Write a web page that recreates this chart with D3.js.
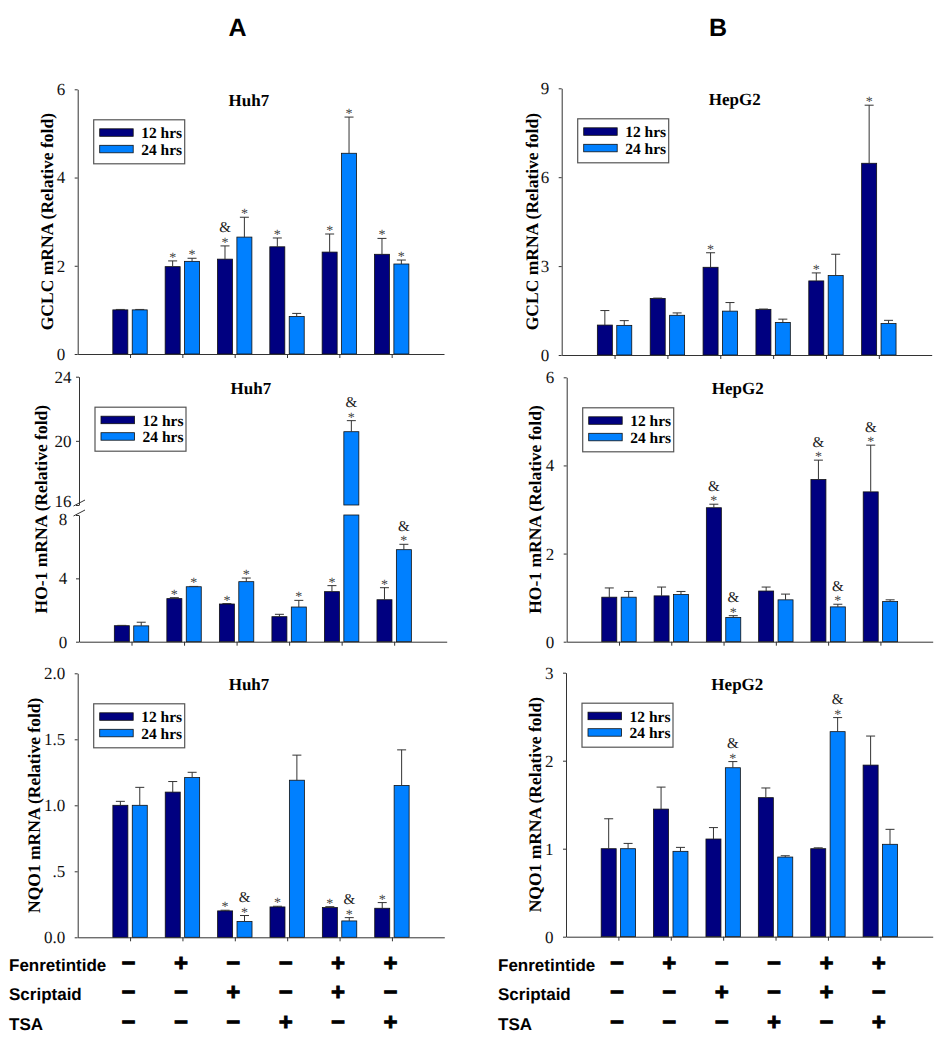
<!DOCTYPE html>
<html>
<head>
<meta charset="utf-8">
<script src="https://cdnjs.cloudflare.com/ajax/libs/d3/7.8.5/d3.min.js"></script>
<style>
  body { margin: 0; background: #fff; }
  svg { display: block; }
  text { text-rendering: geometricPrecision; }
</style>
</head>
<body>
<div id="chart"></div>
<script>
// ---- data ----
const groups = ["ctrl", "fen", "scr", "tsa", "fen+scr", "fen+tsa"];
const seriesNames = ["12 hrs", "24 hrs"];
const fenretintide = ["−", "+", "−", "−", "+", "+"];
const scriptaid = ["−", "−", "+", "−", "+", "−"];
const tsa = ["−", "−", "−", "+", "−", "+"];

// GCLC, Huh7
const gclcHuh7_12 = [1.00, 1.98, 2.15, 2.43, 2.31, 2.26];
const gclcHuh7_12err = [0.01, 0.13, 0.30, 0.20, 0.41, 0.36];
const gclcHuh7_12mark = ["", "*", "&*", "*", "*", "*"];
const gclcHuh7_24 = [1.00, 2.10, 2.65, 0.85, 4.55, 2.04];
const gclcHuh7_24err = [0.01, 0.07, 0.45, 0.07, 0.82, 0.09];
const gclcHuh7_24mark = ["", "*", "*", "", "*", "*"];

// GCLC, HepG2
const gclcHepG2_12 = [1.01, 1.91, 2.96, 1.54, 2.50, 6.47];
const gclcHepG2_12err = [0.49, 0.01, 0.49, 0.01, 0.27, 1.96];
const gclcHepG2_12mark = ["", "", "*", "", "*", "*"];
const gclcHepG2_24 = [1.00, 1.34, 1.48, 1.10, 2.68, 1.06];
const gclcHepG2_24err = [0.16, 0.08, 0.29, 0.11, 0.72, 0.11];
const gclcHepG2_24mark = ["", "", "", "", "", ""];

// HO-1, Huh7 (broken axis 8..16)
const ho1Huh7_12 = [1.01, 2.72, 2.38, 1.58, 3.16, 2.65];
const ho1Huh7_12err = [0.02, 0.06, 0.03, 0.15, 0.38, 0.76];
const ho1Huh7_12mark = ["", "*", "*", "", "*", "*"];
const ho1Huh7_24 = [1.00, 3.47, 3.79, 2.19, 20.57, 5.81];
const ho1Huh7_24err = [0.23, 0.02, 0.23, 0.42, 0.69, 0.34];
const ho1Huh7_24mark = ["", "*", "*", "*", "&*", "&*"];

// HO-1, HepG2
const ho1HepG2_12 = [1.01, 1.04, 3.04, 1.15, 3.68, 3.40];
const ho1HepG2_12err = [0.21, 0.20, 0.08, 0.09, 0.44, 1.06];
const ho1HepG2_12mark = ["", "", "&*", "", "&*", "&*"];
const ho1HepG2_24 = [1.01, 1.07, 0.55, 0.95, 0.79, 0.91];
const ho1HepG2_24err = [0.13, 0.07, 0.04, 0.13, 0.06, 0.04];
const ho1HepG2_24mark = ["", "", "&*", "", "&*", ""];

// NQO1, Huh7
const nqo1Huh7_12 = [1.00, 1.10, 0.20, 0.23, 0.225, 0.22];
const nqo1Huh7_12err = [0.03, 0.08, 0.005, 0.005, 0.007, 0.043];
const nqo1Huh7_12mark = ["", "", "*", "*", "*", "*"];
const nqo1Huh7_24 = [1.00, 1.21, 0.12, 1.19, 0.124, 1.15];
const nqo1Huh7_24err = [0.136, 0.04, 0.045, 0.19, 0.025, 0.27];
const nqo1Huh7_24mark = ["", "", "&*", "", "&*", ""];

// NQO1, HepG2
const nqo1HepG2_12 = [1.00, 1.45, 1.11, 1.58, 1.00, 1.95];
const nqo1HepG2_12err = [0.34, 0.25, 0.13, 0.11, 0.01, 0.33];
const nqo1HepG2_12mark = ["", "", "", "", "", ""];
const nqo1HepG2_24 = [1.00, 0.97, 1.92, 0.905, 2.33, 1.05];
const nqo1HepG2_24err = [0.06, 0.045, 0.07, 0.015, 0.16, 0.17];
const nqo1HepG2_24mark = ["", "", "&*", "", "&*", ""];

// ---- drawing ----
const W = 951, H = 1050;
const serif = "'Liberation Serif', 'Times New Roman', serif";
const sans = "'Liberation Sans', Arial, sans-serif";
const colors = ["#000080", "#0080ff"];
const axisColor = "#333";

const svg = d3.select("#chart").append("svg")
    .attr("width", W).attr("height", H);

function rows(v12, e12, m12, v24, e24, m24) {
    const out = [];
    groups.forEach((g, i) => {
        out.push({ g, s: seriesNames[0], v: v12[i], e: e12[i], m: m12[i] });
        out.push({ g, s: seriesNames[1], v: v24[i], e: e24[i], m: m24[i] });
    });
    return out;
}

const panels = [
    { cell: "Huh7", title: "GCLC mRNA (Relative fold)", left: 77.7, right: 444, top: 89.3, bottom: 354,
      max: 6, ticks: [0, 2, 4, 6], titleOff: 24.5,
      data: rows(gclcHuh7_12, gclcHuh7_12err, gclcHuh7_12mark, gclcHuh7_24, gclcHuh7_24err, gclcHuh7_24mark) },
    { cell: "HepG2", title: "GCLC mRNA (Relative fold)", left: 561.7, right: 931.7, top: 88.3, bottom: 355,
      max: 9, ticks: [0, 3, 6, 9], titleOff: 24,
      data: rows(gclcHepG2_12, gclcHepG2_12err, gclcHepG2_12mark, gclcHepG2_24, gclcHepG2_24err, gclcHepG2_24mark) },
    { cell: "Huh7", title: "HO-1 mRNA (Relative fold)", left: 79, right: 446.7, top: 376.7, bottom: 641.7,
      broken: { low: [0, 8], high: [16, 24], lowTop: 515, highBottom: 505 },
      lowTicks: [0, 4, 8], highTicks: [16, 20, 24], titleOff: 32.5,
      data: rows(ho1Huh7_12, ho1Huh7_12err, ho1Huh7_12mark, ho1Huh7_24, ho1Huh7_24err, ho1Huh7_24mark) },
    { cell: "HepG2", title: "HO-1 mRNA (Relative fold)", left: 566.7, right: 932.7, top: 377.3, bottom: 641.7,
      max: 6, ticks: [0, 2, 4, 6], titleOff: 26,
      data: rows(ho1HepG2_12, ho1HepG2_12err, ho1HepG2_12mark, ho1HepG2_24, ho1HepG2_24err, ho1HepG2_24mark) },
    { cell: "Huh7", title: "NQO1 mRNA (Relative fold)", left: 77.7, right: 444.3, top: 673.3, bottom: 937.3,
      max: 2, ticks: [0, 0.5, 1, 1.5, 2], tickFmt: d => d === 0.5 ? ".5" : d.toFixed(1), titleOff: 37.5,
      data: rows(nqo1Huh7_12, nqo1Huh7_12err, nqo1Huh7_12mark, nqo1Huh7_24, nqo1Huh7_24err, nqo1Huh7_24mark) },
    { cell: "HepG2", title: "NQO1 mRNA (Relative fold)", left: 566, right: 932.7, top: 672.7, bottom: 936.7,
      max: 3, ticks: [0, 1, 2, 3], titleOff: 25.5,
      data: rows(nqo1HepG2_12, nqo1HepG2_12err, nqo1HepG2_12mark, nqo1HepG2_24, nqo1HepG2_24err, nqo1HepG2_24mark) }
];

function styleAxis(sel) {
    sel.selectAll("path, line").attr("stroke", axisColor).attr("stroke-width", 1);
    sel.selectAll("text").attr("font-family", serif).attr("font-size", 17).attr("fill", "#111");
}

panels.forEach(p => {
    const g = svg.append("g");

    const x = d3.scalePoint().domain(groups).range([p.left, p.right]).padding(1);
    const xs = d3.scaleBand().domain(seriesNames).range([-17.2, 17.2]).paddingInner(0.227);
    const color = d3.scaleOrdinal().domain(seriesNames).range(colors);

    // y scale(s): the broken panel maps a value onto one of two segments
    let yTop, yBase, yLow, yHigh;
    if (p.broken) {
        yLow = d3.scaleLinear().domain(p.broken.low).range([p.bottom, p.broken.lowTop]);
        yHigh = d3.scaleLinear().domain(p.broken.high).range([p.broken.highBottom, p.top]);
        yTop = v => v > p.broken.low[1] ? yHigh(v) : yLow(v);
        yBase = yLow(0);
    } else {
        const y = d3.scaleLinear().domain([0, p.max]).range([p.bottom, p.top]);
        yTop = y;
        yBase = y(0);
        p.y = y;
    }

    // bars
    p.data.forEach(d => {
        const bx = x(d.g) + xs(d.s);
        const bw = xs.bandwidth();
        if (p.broken && d.v > p.broken.low[1]) {
            g.append("rect").attr("x", bx).attr("y", yLow(p.broken.low[1]))
                .attr("width", bw).attr("height", yBase - yLow(p.broken.low[1]))
                .attr("fill", color(d.s)).attr("stroke", "#111").attr("stroke-width", 0.8);
            g.append("rect").attr("x", bx).attr("y", yHigh(d.v))
                .attr("width", bw).attr("height", yHigh(p.broken.high[0]) - yHigh(d.v))
                .attr("fill", color(d.s)).attr("stroke", "#111").attr("stroke-width", 0.8);
        } else {
            g.append("rect").attr("x", bx).attr("y", yTop(d.v))
                .attr("width", bw).attr("height", yBase - yTop(d.v))
                .attr("fill", color(d.s)).attr("stroke", "#111").attr("stroke-width", 0.8);
        }
        // error bar (upper only)
        const cx = bx + bw / 2;
        const et = yTop(d.v + d.e);
        g.append("line").attr("x1", cx).attr("x2", cx).attr("y1", yTop(d.v)).attr("y2", et)
            .attr("stroke", "#333").attr("stroke-width", 1);
        g.append("line").attr("x1", cx - 4.5).attr("x2", cx + 4.5).attr("y1", et).attr("y2", et)
            .attr("stroke", "#333").attr("stroke-width", 1);
        // significance marks
        if (d.m.includes("*")) {
            g.append("text").attr("x", cx).attr("y", et + 1).attr("text-anchor", "middle")
                .attr("font-family", serif).attr("font-size", 14).attr("fill", "#444").text("*");
        }
        if (d.m.includes("&")) {
            g.append("text").attr("x", cx).attr("y", et - 13.5).attr("text-anchor", "middle")
                .attr("font-family", serif).attr("font-size", 15).attr("fill", "#222").text("&");
        }
    });

    // x axis
    const xa = g.append("g").attr("transform", `translate(0,${yBase})`)
        .call(d3.axisBottom(x).tickSize(4).tickSizeOuter(0).tickFormat(""));
    styleAxis(xa);

    // y axis
    if (p.broken) {
        const la = g.append("g").attr("transform", `translate(${p.left},0)`)
            .call(d3.axisLeft(yLow).tickValues(p.lowTicks).tickSize(3).tickSizeOuter(0).tickPadding(10));
        const ha = g.append("g").attr("transform", `translate(${p.left},0)`)
            .call(d3.axisLeft(yHigh).tickValues(p.highTicks).tickSize(3).tickSizeOuter(0).tickPadding(10));
        [la, ha].forEach(a => {
            styleAxis(a);
            a.selectAll("text").attr("text-anchor", "middle").attr("x", -16);
        });
        // labels at the break sit close together, as in the original
        ha.selectAll(".tick").filter(d => d === p.broken.high[0]).select("text").attr("dy", "0.1em");
        la.selectAll(".tick").filter(d => d === p.broken.low[1]).select("text").attr("dy", "0.55em");
        // break marks
        [yHigh(p.broken.high[0]) - 2, yLow(p.broken.low[1]) - 2].forEach(by => {
            g.append("line").attr("x1", p.left - 5.5).attr("x2", p.left + 6)
                .attr("y1", by + 3).attr("y2", by - 3)
                .attr("stroke", axisColor).attr("stroke-width", 1);
        });
    } else {
        const ya = g.append("g").attr("transform", `translate(${p.left},0)`)
            .call(d3.axisLeft(p.y).tickValues(p.ticks).tickSize(3).tickSizeOuter(0).tickPadding(9.5)
                .tickFormat(p.tickFmt || d3.format("d")));
        styleAxis(ya);
    }

    // y axis title
    g.append("text")
        .attr("transform", `translate(${p.left - p.titleOff},${(p.top + p.bottom) / 2}) rotate(-90)`)
        .attr("text-anchor", "middle")
        .attr("font-family", serif).attr("font-weight", "bold").attr("font-size", 17.5)
        .attr("fill", "#000").text(p.title);

    // panel title
    g.append("text").attr("x", (p.left + p.right) / 2 - 12).attr("y", p.top + 17)
        .attr("text-anchor", "middle").attr("font-family", serif).attr("font-weight", "bold")
        .attr("font-size", 17).attr("fill", "#000").text(p.cell);

    // legend
    const lx = p.left + 16, ly = p.top + 30.5;
    const leg = g.append("g").attr("transform", `translate(${lx},${ly})`);
    leg.append("rect").attr("width", 91).attr("height", 44)
        .attr("fill", "#fff").attr("stroke", "#555").attr("stroke-width", 1.2);
    seriesNames.forEach((s, i) => {
        leg.append("rect").attr("x", 6).attr("y", 9 + i * 16.5).attr("width", 33.5).attr("height", 7.5)
            .attr("fill", color(s)).attr("stroke", "#111").attr("stroke-width", 0.8);
        leg.append("text").attr("x", 47.5).attr("y", 18.5 + i * 16.5)
            .attr("font-family", serif).attr("font-weight", "bold").attr("font-size", 15.5)
            .attr("fill", "#000").text(s);
    });

    p.x = x;
});

// column headings
[["A", 237.5], ["B", 718]].forEach(([t, hx]) => {
    svg.append("text").attr("x", hx).attr("y", 36).attr("text-anchor", "middle")
        .attr("font-family", sans).attr("font-weight", "bold").attr("font-size", 25).text(t);
});

// treatment table under each column
const treatRows = [["Fenretintide", fenretintide, 971], ["Scriptaid", scriptaid, 1000], ["TSA", tsa, 1030]];
[[panels[4], 9], [panels[5], 498]].forEach(([p, labelX]) => {
    treatRows.forEach(([name, signs, by]) => {
        svg.append("text").attr("x", labelX).attr("y", by)
            .attr("font-family", sans).attr("font-weight", "bold").attr("font-size", 17)
            .attr("fill", "#000").text(name);
        groups.forEach((gr, i) => {
            svg.append("text").attr("x", p.x(gr) - 1.5).attr("y", by)
                .attr("text-anchor", "middle").attr("font-family", sans).attr("font-weight", "bold")
                .attr("font-size", 24).attr("fill", "#000").attr("stroke", "#000").attr("stroke-width", 0.9)
                .text(signs[i]);
        });
    });
});
</script>
</body>
</html>
